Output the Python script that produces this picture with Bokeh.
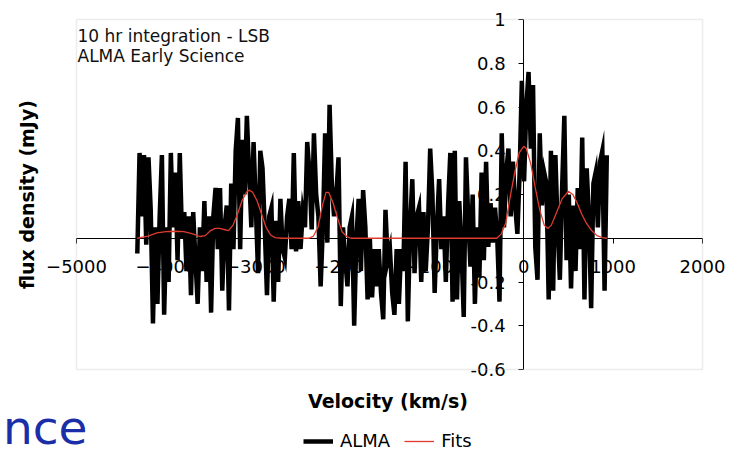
import math
from bokeh.plotting import figure
from bokeh.models import (Range1d, LinearAxis, FixedTicker, Label, Legend,
                          LegendItem, CustomJSTickFormatter, BoxAnnotation)
from bokeh.embed import file_html
from bokeh.resources import INLINE

# ---------------- data ----------------
V0 = -4320          # first channel velocity (km/s)
DV = 25             # channel width (km/s)
alma_flux = [
    -0.07, 0.39, 0.10, 0.38, -0.03, 0.37, 0.13, -0.39, 0.05, -0.30,
    0.10, 0.38, -0.35, 0.05, -0.20, 0.39, 0.05, 0.30, -0.10, 0.39,
    0.00, 0.12, -0.15, 0.10, -0.26, 0.12, -0.10, -0.30, 0.05, -0.15,
    0.17, -0.20, 0.10, -0.34, 0.10, 0.23, -0.05, 0.23, -0.24, 0.05,
    0.15, -0.33, 0.25, -0.05, 0.40, 0.55, -0.05, 0.45, 0.20, 0.56,
    0.30, 0.05, 0.44, 0.15, -0.16, 0.40, 0.32, 0.05, -0.26, 0.10,
    0.14, -0.29, 0.08, -0.20, 0.18, -0.05, -0.09, 0.10, 0.18, -0.05,
    0.39, -0.06, 0.17, -0.05, 0.12, 0.05, 0.44, 0.30, 0.04, 0.48,
    0.20, 0.10, -0.22, 0.05, 0.48, -0.02, 0.61, 0.25, 0.10, 0.20,
    0.37, -0.31, 0.05, -0.10, -0.22, 0.05, 0.10, -0.40, 0.00, 0.18,
    -0.15, 0.22, 0.05, -0.28, 0.00, -0.27, -0.05, -0.22, -0.05, -0.25,
    -0.37, 0.13, -0.10, -0.05, -0.25, -0.35, -0.05, -0.30, -0.05, -0.15,
    0.35, -0.38, 0.05, 0.27, -0.16, 0.10, 0.14, -0.20, 0.12, -0.15,
    0.05, 0.41, 0.20, -0.25, 0.05, 0.27, -0.05, 0.10, -0.20, 0.15,
    0.39, -0.29, 0.40, -0.28, 0.17, -0.05, -0.36, 0.37, 0.10, -0.13,
    0.20, -0.30, 0.05, -0.18, 0.30, -0.10, 0.35, -0.04, 0.16, -0.02,
    0.14, 0.00, -0.29, 0.48, 0.05, 0.30, 0.41, 0.10, 0.35, 0.15,
    0.02, 0.30, 0.72, 0.26, 0.60, 0.76, 0.41, 0.70, -0.04, -0.19,
    0.48, 0.15, 0.30, 0.25, -0.28, 0.40, -0.24, 0.38, 0.05, -0.19,
    0.23, 0.56, -0.10, 0.20, -0.23, 0.15, -0.15, 0.23, -0.05, 0.46,
    -0.28, 0.32, 0.10, -0.32, 0.25, 0.30, 0.05, 0.35, 0.40, -0.24,
    0.38,
]
alma_velocity = [V0 + DV * i for i in range(len(alma_flux))]

fit_velocity = [
    -4320, -4200, -4100, -4000, -3900, -3800, -3700, -3620, -3560, -3500,
    -3450, -3400, -3350, -3300, -3250, -3200, -3150, -3100, -3070, -3030,
    -2980, -2930, -2880, -2830, -2780, -2700, -2400, -2350, -2300, -2250,
    -2210, -2180, -2130, -2080, -2030, -1980, -1930, -300, -250, -200,
    -150, -100, -50, 0, 30, 80, 130, 180, 230, 270,
    310, 370, 430, 500, 550, 600, 650, 700, 760, 820,
    880, 930,
]
fit_flux = [
    0.0, 0.01, 0.025, 0.03, 0.032, 0.03, 0.02, 0.008, 0.012, 0.035,
    0.045, 0.045, 0.04, 0.035, 0.06, 0.11, 0.17, 0.21, 0.22, 0.21,
    0.17, 0.11, 0.05, 0.015, 0.003, 0.0, 0.0, 0.01, 0.05, 0.15,
    0.21, 0.21, 0.16, 0.09, 0.03, 0.008, 0.0, 0.0, 0.02, 0.07,
    0.19, 0.30, 0.39, 0.42, 0.41, 0.34, 0.23, 0.13, 0.06, 0.045,
    0.06, 0.12, 0.18, 0.215, 0.20, 0.16, 0.11, 0.07, 0.035, 0.012,
    0.003, 0.0,
]

x_ticks = [-5000, -4000, -3000, -2000, -1000, 0, 1000, 2000]
y_ticks = [-0.6, -0.4, -0.2, 0.2, 0.4, 0.6, 0.8, 1.0]
X_MIN, X_MAX = -5000, 2000
Y_MIN, Y_MAX = -0.6, 1.0

FONT = "DejaVu Sans"

# ---------------- layout: whole canvas is the frame ----------------
W, H = 729, 451
BOX_L, BOX_R, BOX_T, BOX_B = 76, 702, 19, 369   # plot box in canvas pixels
sx = (BOX_R - BOX_L) / (X_MAX - X_MIN)
sy = (BOX_B - BOX_T) / (Y_MAX - Y_MIN)
x_lo = X_MIN - BOX_L / sx
x_hi = X_MAX + (W - BOX_R) / sx
y_hi = Y_MAX + BOX_T / sy
y_lo = Y_MIN - (H - BOX_B) / sy

p = figure(width=W, height=H, output_backend="svg", toolbar_location=None,
           x_range=Range1d(x_lo, x_hi), y_range=Range1d(y_lo, y_hi),
           x_axis_location=None, y_axis_location=None,
           min_border=0)
p.grid.grid_line_color = None
p.outline_line_color = None
p.background_fill_color = "white"
p.border_fill_color = "white"

# plot-area border
p.add_layout(BoxAnnotation(left=X_MIN, right=X_MAX, bottom=Y_MIN, top=Y_MAX,
                           fill_alpha=0, line_color="#bfbfbf", line_width=1.5,
                           level="underlay"))

def style_axis(ax):
    ax.axis_line_color = "black"
    ax.axis_line_width = 1
    ax.major_tick_line_color = "black"
    ax.major_tick_in = 0
    ax.major_tick_out = 5
    ax.minor_tick_line_color = None
    ax.major_label_text_font = FONT
    ax.major_label_text_font_size = "18px"
    ax.major_label_text_color = "black"
    ax.level = "underlay"

xaxis = LinearAxis(fixed_location=0, ticker=FixedTicker(ticks=x_ticks),
                   bounds=(X_MIN, X_MAX))
style_axis(xaxis)
xaxis.major_label_standoff = 17
p.add_layout(xaxis, "below")

yaxis = LinearAxis(fixed_location=0, ticker=FixedTicker(ticks=y_ticks),
                   bounds=(Y_MIN, Y_MAX),
                   formatter=CustomJSTickFormatter(code="return String(Math.round(tick*10)/10);"))
style_axis(yaxis)
yaxis.major_label_standoff = 13
p.add_layout(yaxis, "left")

r_alma = p.line(alma_velocity, alma_flux, line_color="black", line_width=4.5,
                line_join="miter")
r_fit = p.line(fit_velocity, fit_flux, line_color="#e03a2e", line_width=1.3)

# ---------------- texts (screen units: from canvas bottom-left) ----------------
def lab(x, y_top, text, **kw):
    p.add_layout(Label(x=x, y=H - y_top, x_units="screen", y_units="screen",
                       text=text, text_font=FONT, **kw))

lab(77, 35, "10 hr integration - LSB", text_font_size="17px",
    text_color="#111111", text_baseline="middle")
lab(77, 55.5, "ALMA Early Science", text_font_size="17px",
    text_color="#111111", text_baseline="middle")
lab(26, 194, "flux density (mJy)", angle=math.pi / 2, text_font_size="19px",
    text_font_style="bold", text_color="black", text_align="center",
    text_baseline="middle")
lab(387.5, 400, "Velocity (km/s)", text_font_size="19px",
    text_font_style="bold", text_color="black", text_align="center",
    text_baseline="middle")
lab(87, 427, "nce", text_font_size="47px", text_color="#1a2ea8",
    text_align="right", text_baseline="alphabetic")

legend = Legend(items=[LegendItem(label="ALMA", renderers=[r_alma]),
                       LegendItem(label="Fits", renderers=[r_fit])],
                orientation="horizontal", location=(303, 0),
                border_line_color=None, background_fill_alpha=0,
                padding=0, margin=0, spacing=14, label_standoff=7,
                glyph_width=30, glyph_height=20,
                label_text_font=FONT, label_text_font_size="18px",
                label_text_color="black")
p.add_layout(legend, "center")

open("out.html", "w").write(file_html(p, INLINE))
